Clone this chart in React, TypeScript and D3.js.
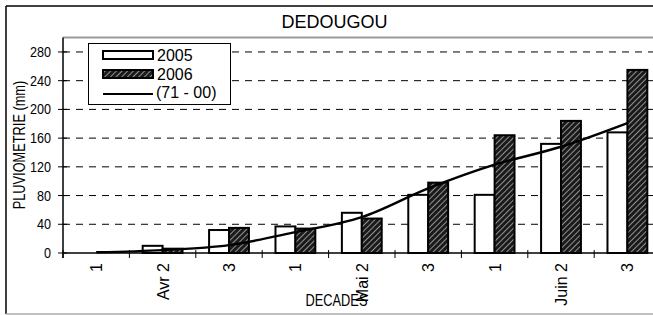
import React from "react";
import * as d3 from "d3";

const decades = ["1", "Avr 2", "3", "1", "Mai 2", "3", "1", "Juin 2", "3"];
const rain2005 = [0, 10, 32, 37, 56, 81, 81, 152, 168];
const rain2006 = [0, 6, 35, 34, 48, 98, 164, 184, 255];
const normal = [1, 4, 11, 29, 50, 90, 123, 148, 181];
const yTicks = [0, 40, 80, 120, 160, 200, 240, 280];

const W = 653;
const H = 315;
const font = "Liberation Sans, Arial, sans-serif";

export default function App() {
  const left = 63;
  const right = 660.6;
  const bottom = 253;
  const top = 37.6;

  const x = d3.scaleBand<number>().domain(d3.range(decades.length)).range([left, right]).padding(0);
  const y = d3.scaleLinear().domain([0, 300]).range([bottom, top]);
  const bw = x.bandwidth();
  const barW = bw * 0.3;
  const off = (bw - 2 * barW) / 2;

  const line = d3
    .line<number>()
    .x((d, i) => (x(i) as number) + bw / 2)
    .y((d) => y(d))
    .curve(d3.curveCatmullRom.alpha(0.5));

  return (
    <svg width={W} height={H} style={{ position: "absolute", left: 0, top: 0 }} fontFamily={font}>
      <defs>
        <pattern id="hatch" patternUnits="userSpaceOnUse" width={4} height={4} patternTransform="rotate(45)">
          <rect width={4} height={4} fill="#1a1a1a" />
          <line x1={0} y1={0} x2={0} y2={4} stroke="#b0b0b0" strokeWidth={1.6} />
        </pattern>
      </defs>
      <rect x={0} y={0} width={W} height={H} fill="#fff" />
      {/* outer frame */}
      <line x1={6} y1={6} x2={W} y2={6} stroke="#000" strokeWidth={1.5} />
      <line x1={6} y1={6} x2={6} y2={314} stroke="#000" strokeWidth={1.5} />
      <line x1={6} y1={314} x2={W} y2={314} stroke="#aaa" strokeWidth={1.5} />

      <text x={334.5} y={28} textAnchor="middle" fontSize={18}>DEDOUGOU</text>

      {/* plot top border */}
      <line x1={left} y1={top} x2={W} y2={top} stroke="#999" strokeWidth={2} />

      {/* grid */}
      {yTicks.filter((t) => t > 0).map((t) => (
        <line key={t} x1={left} x2={W} y1={y(t)} y2={y(t)} stroke="#000" strokeDasharray="7,6" strokeWidth={1} />
      ))}

      {/* bars */}
      {decades.map((d, i) => (
        <g key={i}>
          {rain2005[i] > 0 && (
            <rect x={(x(i) as number) + off} y={y(rain2005[i])} width={barW} height={bottom - y(rain2005[i])}
              fill="#fff" stroke="#000" strokeWidth={2} />
          )}
          {rain2006[i] > 0 && (
            <rect x={(x(i) as number) + off + barW} y={y(rain2006[i])} width={barW} height={bottom - y(rain2006[i])}
              fill="url(#hatch)" stroke="#000" strokeWidth={2} />
          )}
        </g>
      ))}

      <path d={line(normal) || ""} fill="none" stroke="#000" strokeWidth={2.4} />

      {/* y axis */}
      <line x1={left} x2={left} y1={top} y2={bottom + 5} stroke="#000" strokeWidth={1.5} />
      {yTicks.map((t) => (
        <g key={t}>
          <line x1={left - 5} x2={left + 4} y1={y(t)} y2={y(t)} stroke="#000" strokeWidth={1} />
          <text transform={`translate(51,${y(t)}) scale(0.9,1)`} dy="0.36em" textAnchor="end" fontSize={14}>{t}</text>
        </g>
      ))}

      {/* x axis */}
      <line x1={left} x2={W} y1={bottom} y2={bottom} stroke="#000" strokeWidth={1.5} />
      {decades.map((d, i) => (
        <line key={"t" + i} x1={(x(i) as number)} x2={(x(i) as number)} y1={bottom - 3} y2={bottom + 5} stroke="#000" strokeWidth={1} />
      ))}
      {decades.map((d, i) => {
        const cx = (x(i) as number) + bw / 2;
        return (
          <text key={"l" + i} transform={`translate(${cx + 6},263) rotate(-90)`} textAnchor="end" fontSize={16}>{d}</text>
        );
      })}

      <text transform="translate(336.5,306) scale(0.8,1)" textAnchor="middle" fontSize={16}>DECADES</text>
      <text transform="translate(25,145) rotate(-90) scale(0.8,1)" textAnchor="middle" fontSize={16}>PLUVIOMETRIE (mm)</text>

      {/* legend */}
      <rect x={88.5} y={43.5} width={142} height={61} fill="#fff" stroke="#000" strokeWidth={1} />
      <rect x={103} y={51} width={50} height={8} fill="#fff" stroke="#000" strokeWidth={2} />
      <text x={157} y={61} fontSize={16}>2005</text>
      <rect x={103} y={70} width={50} height={8} fill="url(#hatch)" stroke="#000" strokeWidth={2} />
      <text x={157} y={80} fontSize={16}>2006</text>
      <line x1={103} x2={153} y1={94} y2={94} stroke="#000" strokeWidth={2} />
      <text x={156} y={98} fontSize={16}>(71 - 00)</text>
    </svg>
  );
}
